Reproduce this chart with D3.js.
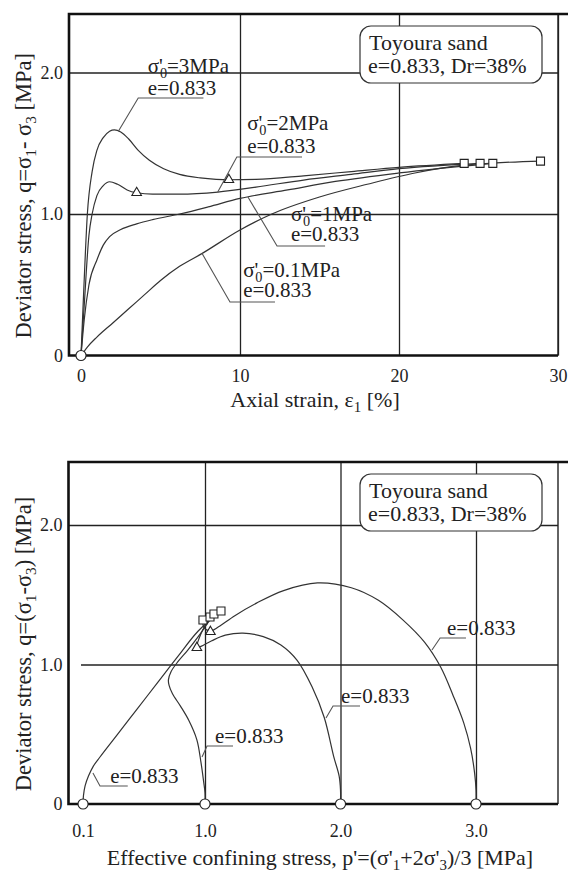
<!DOCTYPE html>
<html><head><meta charset="utf-8">
<script src="https://cdn.jsdelivr.net/npm/d3@7"></script>
<style>
body{margin:0;background:#fff}
</style></head><body>
<svg id="chart" width="568" height="872"></svg>
<script>
// ---- data ----
var pressures = ["3", "2", "1", "0.1"];   // sigma'0 in MPa, e=0.833

// upper chart: axial strain [%] vs q [MPa]
var strain3 = [0, 0.15, 0.4, 0.7, 1.0, 1.4, 1.8, 2.1, 2.5, 3.0, 3.6, 4.3, 5.2, 6.2, 7.5, 8.5, 9.3, 11, 14, 17, 20, 24.1];
var q3      = [0, 0.4, 1.0, 1.3, 1.45, 1.54, 1.585, 1.595, 1.58, 1.53, 1.45, 1.38, 1.32, 1.28, 1.255, 1.245, 1.242, 1.245, 1.27, 1.3, 1.33, 1.358];
var strain2 = [0, 0.2, 0.5, 0.7, 1.0, 1.4, 1.8, 2.3, 2.9, 3.5, 4.5, 6.2, 8.6, 11, 14, 17, 20, 25.1];
var q2      = [0, 0.35, 0.85, 1.0, 1.13, 1.2, 1.228, 1.21, 1.17, 1.15, 1.14, 1.14, 1.155, 1.19, 1.24, 1.28, 1.32, 1.358];
var strain1 = [0, 0.2, 0.5, 1.0, 1.4, 1.8, 2.5, 3.5, 4.5, 6.2, 8, 10, 13, 16, 20, 25.9];
var q1      = [0, 0.25, 0.5, 0.675, 0.78, 0.84, 0.89, 0.93, 0.96, 1.0, 1.05, 1.11, 1.17, 1.23, 1.29, 1.358];
var strain01 = [0, 0.4, 1.0, 2.0, 3.0, 4.0, 5.0, 6.2, 7.6, 10, 12, 15, 18, 21, 24.1, 25.9, 28.9];
var q01      = [0, 0.06, 0.13, 0.23, 0.33, 0.43, 0.53, 0.63, 0.72, 0.887, 1.0, 1.12, 1.21, 1.29, 1.345, 1.36, 1.374];

var topSquareX = [24.1, 25.1, 25.9, 28.9];
var topSquareQ = [1.358, 1.358, 1.358, 1.374];
var topTriX = [9.3, 3.5];
var topTriQ = [1.242, 1.15];

// lower chart: p' [MPa] vs q [MPa]
var p3 = [3.0, 3.0, 2.99, 2.96, 2.91, 2.83, 2.74, 2.62, 2.46, 2.28, 2.08, 1.83, 1.58, 1.38, 1.22, 1.1, 1.04, 0.99, 0.985];
var pq3 = [0, 0.1, 0.22, 0.4, 0.58, 0.78, 0.98, 1.16, 1.32, 1.46, 1.55, 1.585, 1.53, 1.44, 1.35, 1.27, 1.24, 1.27, 1.319];
var p2 = [2.0, 2.0, 1.99, 1.95, 1.88, 1.79, 1.68, 1.56, 1.43, 1.28, 1.15, 1.05, 0.97, 0.94, 0.97, 1.037];
var pq2 = [0, 0.1, 0.2, 0.34, 0.62, 0.84, 1.03, 1.14, 1.2, 1.225, 1.21, 1.17, 1.13, 1.12, 1.22, 1.34];
var p1 = [1.0, 1.0, 0.99, 0.97, 0.94, 0.88, 0.82, 0.76, 0.735, 0.73, 0.75, 0.8, 0.87, 0.95, 1.066];
var pq1 = [0, 0.08, 0.16, 0.3, 0.46, 0.6, 0.7, 0.79, 0.85, 0.89, 0.95, 1.02, 1.1, 1.2, 1.362];
var p01 = [0.1, 0.103, 0.115, 0.14, 0.175, 0.225, 0.35, 0.5, 0.65, 0.8, 0.95, 1.118];
var pq01 = [0, 0.06, 0.13, 0.2, 0.27, 0.337, 0.494, 0.682, 0.87, 1.058, 1.24, 1.383];

var botSquareP = [0.985, 1.037, 1.066, 1.118];
var botSquareQ = [1.319, 1.34, 1.362, 1.383];
var botTriP = [1.04, 0.94];
var botTriQ = [1.235, 1.12];
var botStartP = [0.1, 1.0, 2.0, 3.0];

// ticks
var strainTicks = [0, 10, 20, 30];
var qTicks = [0, 1, 2];
var qTickLabels = ["0", "1.0", "2.0"];
var pTicks = [0.1, 1, 2, 3];
var pTickLabels = ["0.1", "1.0", "2.0", "3.0"];

// annotation anchors, in data units
var topNote = {
  x: [4.2, 10.45, 13.2, 10.2], q1: [2.0, 1.594, 0.953, 0.557], q2: [1.84, 1.431, 0.809, 0.411],
  ux0: [3.6, 9.8, 12.33, 9.37], ux1: [7.7, 13.9, 15.35, 12.2], uq: [1.82, 1.403, 0.774, 0.378],
  lx: [2.35, 8.6, 10.5, 7.6], lq: [1.585, 1.155, 1.12, 0.724]
};
var botNote = {
  x: [2.786, 2.004, 1.074, 0.30], q: [1.211, 0.724, 0.437, 0.15],
  ux0: [2.735, 1.945, 1.015, 0.225], ux1: [2.926, 2.144, 1.207, 0.43], uq: [1.19, 0.703, 0.416, 0.129],
  lx: [2.675, 1.893, 0.978, 0.173], lq: [1.104, 0.616, 0.337, 0.222]
};

var FONT = "'Liberation Serif', 'Times New Roman', 'DejaVu Serif', serif";
var svg = d3.select("#chart");

var xA = d3.scaleLinear().domain([0, 30]).range([81, 558]);
var yA = d3.scaleLinear().domain([0, 2]).range([355.5, 72.5]);
var xB = d3.scaleLinear().domain([0, 3]).range([69.5, 476]);
var yB = d3.scaleLinear().domain([0, 2]).range([804, 525]);

function rich(sel, parts, fs) {
  var shift = 0;
  parts.forEach(function(p) {
    var t = sel.append("tspan").text(p[0]);
    if (p[1] == "sub") {
      t.attr("font-size", fs * 0.68).attr("dy", fs * 0.24 - shift);
      if (p[2]) t.attr("dx", p[2]);
      shift = fs * 0.24;
    } else {
      t.attr("font-size", fs);
      if (shift) t.attr("dy", -shift);
      shift = 0;
    }
  });
}

function panel(x, y, box, xt, xtl, xpad, ylabel, xlabel, xlabelPos, gridStart) {
  var g = svg.append("g");
  // grid
  g.append("g").attr("transform", "translate(0," + box.bottom + ")")
    .call(d3.axisBottom(x).tickValues(xt.filter(function(d) { return d >= 1; })).tickSize(-(box.bottom - box.top)).tickFormat(""))
    .call(function(a) { a.select(".domain").remove(); a.selectAll("line").attr("stroke", "#222").attr("stroke-width", 1.3); });
  g.append("g").attr("transform", "translate(" + box.left + ",0)")
    .call(d3.axisLeft(y).tickValues([1, 2]).tickSize(-(box.right - box.left)).tickFormat(""))
    .call(function(a) {
      a.select(".domain").remove();
      a.selectAll("line").attr("stroke", "#222").attr("stroke-width", 1.3)
        .attr("x1", function(d) { return d == 1 ? gridStart : 0; });
    });
  // frame
  g.append("line").attr("x1", box.right).attr("x2", box.right).attr("y1", box.top).attr("y2", box.bottom).attr("stroke", "#222").attr("stroke-width", 1.4);
  g.append("path").attr("d", "M568," + box.top + "H" + box.left + "V" + box.bottom + "H" + box.right)
    .attr("fill", "none").attr("stroke", "#111").attr("stroke-width", 2.6);
  // tick labels
  g.append("g").attr("transform", "translate(0," + box.bottom + ")")
    .call(d3.axisBottom(x).tickValues(xt).tickSize(0).tickPadding(xpad).tickFormat(function(d, i) { return xtl[i]; }))
    .call(function(a) { a.select(".domain").remove(); a.selectAll("text").attr("font-size", 18); });
  g.append("g").attr("transform", "translate(" + box.left + ",0)")
    .call(d3.axisLeft(y).tickValues(qTicks).tickSize(0).tickPadding(6).tickFormat(function(d, i) { return qTickLabels[i]; }))
    .call(function(a) { a.select(".domain").remove(); a.selectAll("text").attr("font-size", 18); });
  // axis titles
  rich(g.append("text").attr("text-anchor", "middle")
    .attr("transform", "translate(31," + ((box.top + box.bottom) / 2 + 11) + ") rotate(-90)"), ylabel, 22.5);
  rich(g.append("text").attr("text-anchor", "middle").attr("x", xlabelPos[0]).attr("y", xlabelPos[1]), xlabel, 22);
  // legend box
  var lg = g.append("g").attr("transform", "translate(360," + (box.top + 12) + ")");
  lg.append("rect").attr("width", 182).attr("height", 57).attr("rx", 11).attr("fill", "#fff").attr("stroke", "#333").attr("stroke-width", 1.2);
  lg.append("text").attr("x", 9).attr("y", 23.5).attr("font-size", 22).text("Toyoura sand");
  lg.append("text").attr("x", 8).attr("y", 46.5).attr("font-size", 22).text("e=0.833, Dr=38%");
  return g;
}

var boxA = {left: 69, top: 14, right: 558, bottom: 355.5};
var boxB = {left: 68.5, top: 462, right: 558, bottom: 804};

var gA = panel(xA, yA, boxA, strainTicks, strainTicks.map(String), 14,
  [["Deviator stress, q=σ"], ["1", "sub"], ["- σ"], ["3", "sub"], [" [MPa]"]],
  [["Axial strain, ε"], ["1", "sub"], [" [%]"]], [315, 407], 0);
var gB = panel(xB, yB, boxB, pTicks, pTickLabels, 20.5,
  [["Deviator stress, q=(σ"], ["1", "sub"], ["-σ"], ["3", "sub"], [") [MPa]"]],
  [["Effective confining stress, p'=(σ'"], ["1", "sub"], ["+2σ'"], ["3", "sub"], [")/3 [MPa]"]], [320, 865], 12.5);

// curves
var lineA = d3.line().x(function(d) { return xA(d[0]); }).y(function(d) { return yA(d[1]); }).curve(d3.curveMonotoneX);
var lineB = d3.line().x(function(d) { return xB(d[0]); }).y(function(d) { return yB(d[1]); }).curve(d3.curveCatmullRom.alpha(0.5));

[[strain3, q3], [strain2, q2], [strain1, q1], [strain01, q01]].forEach(function(s) {
  gA.append("path").attr("d", lineA(d3.zip(s[0], s[1]))).attr("fill", "none").attr("stroke", "#333").attr("stroke-width", 1.2);
});
[[p3, pq3], [p2, pq2], [p1, pq1], [p01, pq01]].forEach(function(s) {
  gB.append("path").attr("d", lineB(d3.zip(s[0], s[1]))).attr("fill", "none").attr("stroke", "#333").attr("stroke-width", 1.2);
});

// annotations
pressures.forEach(function(p, i) {
  var n = topNote;
  gA.append("path").attr("d", "M" + xA(n.lx[i]) + "," + yA(n.lq[i]) + "L" + xA(n.ux0[i]) + "," + yA(n.uq[i]) + "H" + xA(n.ux1[i]))
    .attr("fill", "none").attr("stroke", "#555").attr("stroke-width", 1.1);
  rich(gA.append("text").attr("x", xA(n.x[i])).attr("y", yA(n.q1[i])), [["σ'"], ["0", "sub", -3], ["=" + p + "MPa"]], 21);
  gA.append("text").attr("x", xA(n.x[i])).attr("y", yA(n.q2[i])).attr("font-size", 21).text("e=0.833");

  var m = botNote;
  gB.append("path").attr("d", "M" + xB(m.lx[i]) + "," + yB(m.lq[i]) + "L" + xB(m.ux0[i]) + "," + yB(m.uq[i]) + "H" + xB(m.ux1[i]))
    .attr("fill", "none").attr("stroke", "#555").attr("stroke-width", 1.1);
  gB.append("text").attr("x", xB(m.x[i])).attr("y", yB(m.q[i])).attr("font-size", 21).text("e=0.833");
});

// markers
function marks(g, x, y, xs, ys, type, size) {
  g.selectAll(null).data(d3.zip(xs, ys)).enter().append("path")
    .attr("transform", function(d) { return "translate(" + x(d[0]) + "," + y(d[1]) + ")"; })
    .attr("d", d3.symbol().type(type).size(size))
    .attr("fill", "#fff").attr("stroke", "#222").attr("stroke-width", 1.1);
}
marks(gA, xA, yA, topSquareX, topSquareQ, d3.symbolSquare, 64);
marks(gA, xA, yA, topTriX, topTriQ, d3.symbolTriangle, 40);
marks(gA, xA, yA, [0], [0], d3.symbolCircle, 80);
marks(gB, xB, yB, botSquareP, botSquareQ, d3.symbolSquare, 64);
marks(gB, xB, yB, botTriP, botTriQ, d3.symbolTriangle, 40);
marks(gB, xB, yB, botStartP, botStartP.map(function() { return 0; }), d3.symbolCircle, 80);

// one serif face for every text, overriding the axis defaults
svg.selectAll("g").attr("font-family", null);
svg.attr("font-family", FONT).selectAll("text").attr("font-family", FONT).attr("fill", "#222");
</script>
</body></html>
